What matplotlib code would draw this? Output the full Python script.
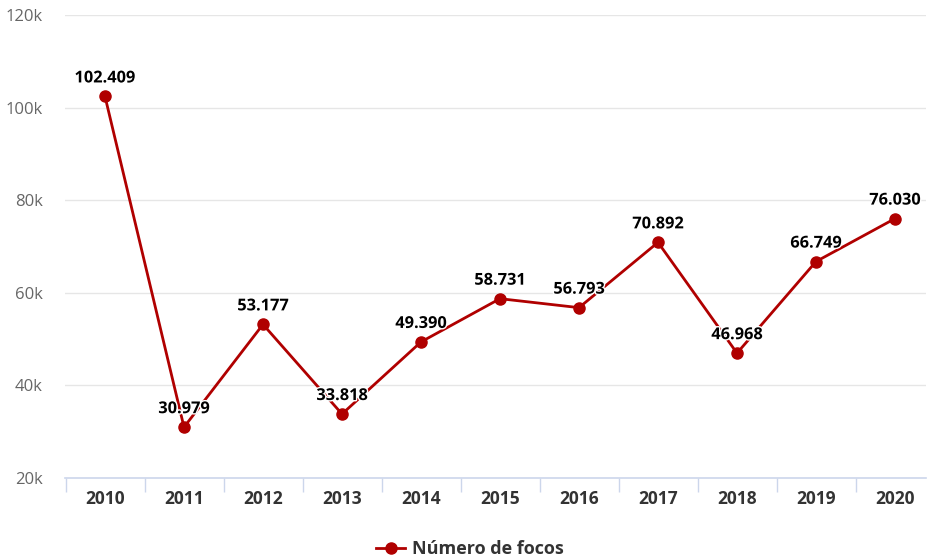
import matplotlib
matplotlib.use("Agg")
import matplotlib.pyplot as plt
import matplotlib.patheffects as pe
from matplotlib.lines import Line2D

plt.rcParams['font.family'] = ['Open Sans', 'DejaVu Sans']

years = ['2010', '2011', '2012', '2013', '2014', '2015', '2016', '2017', '2018', '2019', '2020']
focos = [102409, 30979, 53177, 33818, 49390, 58731, 56793, 70892, 46968, 66749, 76030]
y_ticks = [20000, 40000, 60000, 80000, 100000, 120000]
y_tick_labels = ['20k', '40k', '60k', '80k', '100k', '120k']
series_name = 'Número de focos'

line_color = '#b00000'

W, H = 927, 560
fig = plt.figure(figsize=(W / 100, H / 100), dpi=100)
ax = fig.add_axes([65 / W, 1 - 478 / H, (926 - 65) / W, (478 - 15) / H])

xs = list(range(len(years)))
ax.plot(xs, focos, color=line_color, lw=2, marker='o', markersize=8,
        markerfacecolor=line_color, markeredgecolor=line_color, zorder=3, clip_on=False)

# data labels, Brazilian thousands separator
for x, v in zip(xs, focos):
    txt = f"{v:,}".replace(',', '.')
    ax.annotate(txt, (x, v), xytext=(0, 10), textcoords='offset pixels',
                ha='center', va='bottom', fontsize=11.8, fontweight='bold', color='black',
                zorder=4, path_effects=[pe.withStroke(linewidth=2, foreground='white')])

ax.set_ylim(20000, 120000)
ax.set_xlim(-40 / 79, 10 + 31 / 79)
ax.set_yticks(y_ticks)
ax.set_yticklabels(y_tick_labels)
ax.tick_params(axis='y', length=0, pad=16, labelsize=12, labelcolor='#666666')
for yy in y_ticks[1:]:
    ax.axhline(yy, color='#e6e6e6', lw=1, zorder=0)

# category ticks between years, labels centered
ax.set_xticks([i - 0.5 for i in range(len(years))])
ax.set_xticklabels([])
ax.set_xticks(xs, minor=True)
ax.set_xticklabels(years, minor=True)
ax.tick_params(axis='x', which='major', length=10, width=1, color='#ccd6eb', direction='out')
ax.tick_params(axis='x', which='minor', length=0, pad=9, labelsize=12.5, labelcolor='#333333')
for lbl in ax.get_xticklabels(minor=True):
    lbl.set_fontweight('bold')

for s in ['top', 'right', 'left']:
    ax.spines[s].set_visible(False)
ax.spines['bottom'].set_color('#ccd6eb')
ax.spines['bottom'].set_linewidth(1.2)

handle = Line2D([0], [0], color=line_color, lw=2, marker='o', markersize=8)
fig.legend([handle], [series_name], loc='center', bbox_to_anchor=(470 / W, 1 - 549 / H),
           frameon=False, handlelength=1.6, handletextpad=0.4,
           prop={'weight': 'bold', 'size': 13}, labelcolor='#333333')

fig.savefig('out.png', dpi=100)
